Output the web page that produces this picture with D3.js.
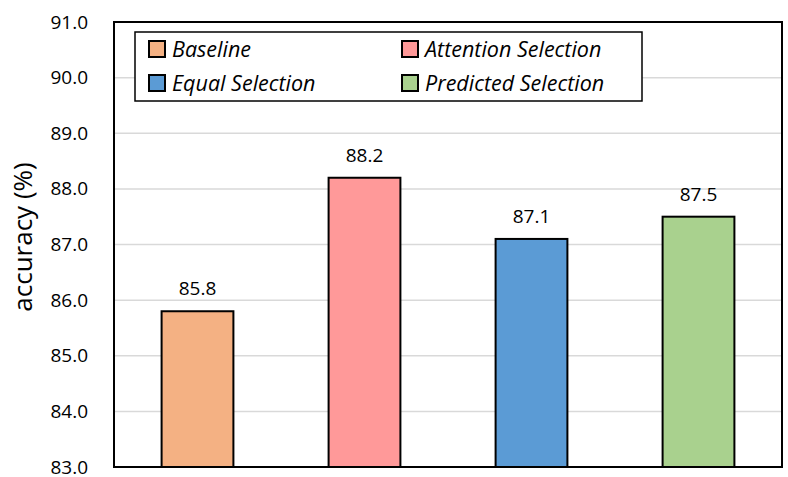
<!DOCTYPE html>
<html><head><meta charset="utf-8">
<script src="https://cdn.jsdelivr.net/npm/d3@7"></script>
<style>body{margin:0;background:#fff;} text{font-family:"Open Sans",sans-serif;fill:#000;}</style>
</head><body>
<svg id="c" width="788" height="477"></svg>
<script>
const categories = ["Baseline", "Attention Selection", "Equal Selection", "Predicted Selection"];
const values = [85.8, 88.2, 87.1, 87.5];
const colors = ["#F4B183", "#FF9999", "#5B9BD5", "#A9D18E"];
const yTicks = [83, 84, 85, 86, 87, 88, 89, 90, 91];
const yLabel = "accuracy (%)";

const svg = d3.select("#c");
const m = {left:114, right:6, top:22, bottom:10};
const W = 788, H = 477;
const x = d3.scaleBand().domain(categories).range([m.left, W - m.right]).paddingInner(0.57).paddingOuter(0.285);
const y = d3.scaleLinear().domain([83, 91]).range([H - m.bottom, m.top]);

// grid
svg.append("g").selectAll("line").data(yTicks).join("line")
  .attr("x1", m.left).attr("x2", W - m.right)
  .attr("y1", d => y(d)).attr("y2", d => y(d))
  .attr("stroke", "#d9d9d9").attr("stroke-width", 1.5);

// y axis labels
const ya = svg.append("g").attr("transform", `translate(${m.left},0)`)
  .call(d3.axisLeft(y).tickValues(yTicks).tickFormat(d3.format(".1f")).tickSize(0).tickPadding(26));
ya.select(".domain").remove();
ya.selectAll("text").style("font-size", "19px").style("font-family", '"Open Sans",sans-serif');

// bars
svg.append("g").selectAll("rect").data(categories).join("rect")
  .attr("x", d => x(d)).attr("width", x.bandwidth())
  .attr("y", (d,i) => y(values[i])).attr("height", (d,i) => y(83) - y(values[i]))
  .attr("fill", (d,i) => colors[i]).attr("stroke", "#000").attr("stroke-width", 2);

// value labels
svg.append("g").selectAll("text").data(categories).join("text")
  .attr("x", d => x(d) + x.bandwidth()/2).attr("y", (d,i) => y(values[i]) - 16)
  .attr("text-anchor", "middle").style("font-size", "19px")
  .text((d,i) => values[i].toFixed(1));

// frame
svg.append("rect").attr("x", m.left).attr("y", m.top).attr("width", W - m.right - m.left).attr("height", H - m.bottom - m.top)
  .attr("fill", "none").attr("stroke", "#000").attr("stroke-width", 2);

// y label
svg.append("text").attr("transform", `translate(32,237) rotate(-90)`)
  .attr("text-anchor", "middle").style("font-size", "26px").text(yLabel);

// legend
const lg = svg.append("g");
lg.append("rect").attr("x", 135).attr("y", 32).attr("width", 507).attr("height", 69)
  .attr("fill", "#fff").attr("stroke", "#000").attr("stroke-width", 1.5);
const legOrder = [0, 1, 2, 3];
const lx = [149, 402], ly = [49, 83];
legOrder.forEach((ci, k) => {
  const col = k % 2, row = Math.floor(k / 2);
  const g = lg.append("g").attr("transform", `translate(${lx[col]},${ly[row]})`);
  g.append("rect").attr("x", 0).attr("y", -8).attr("width", 16).attr("height", 16)
    .attr("fill", colors[ci]).attr("stroke", "#000").attr("stroke-width", 2);
  g.append("text").attr("x", 23).attr("y", 0).attr("dy", "0.35em")
    .style("font-size", "21.5px").style("font-style", "italic").text(categories[ci]);
});
</script>
</body></html>
